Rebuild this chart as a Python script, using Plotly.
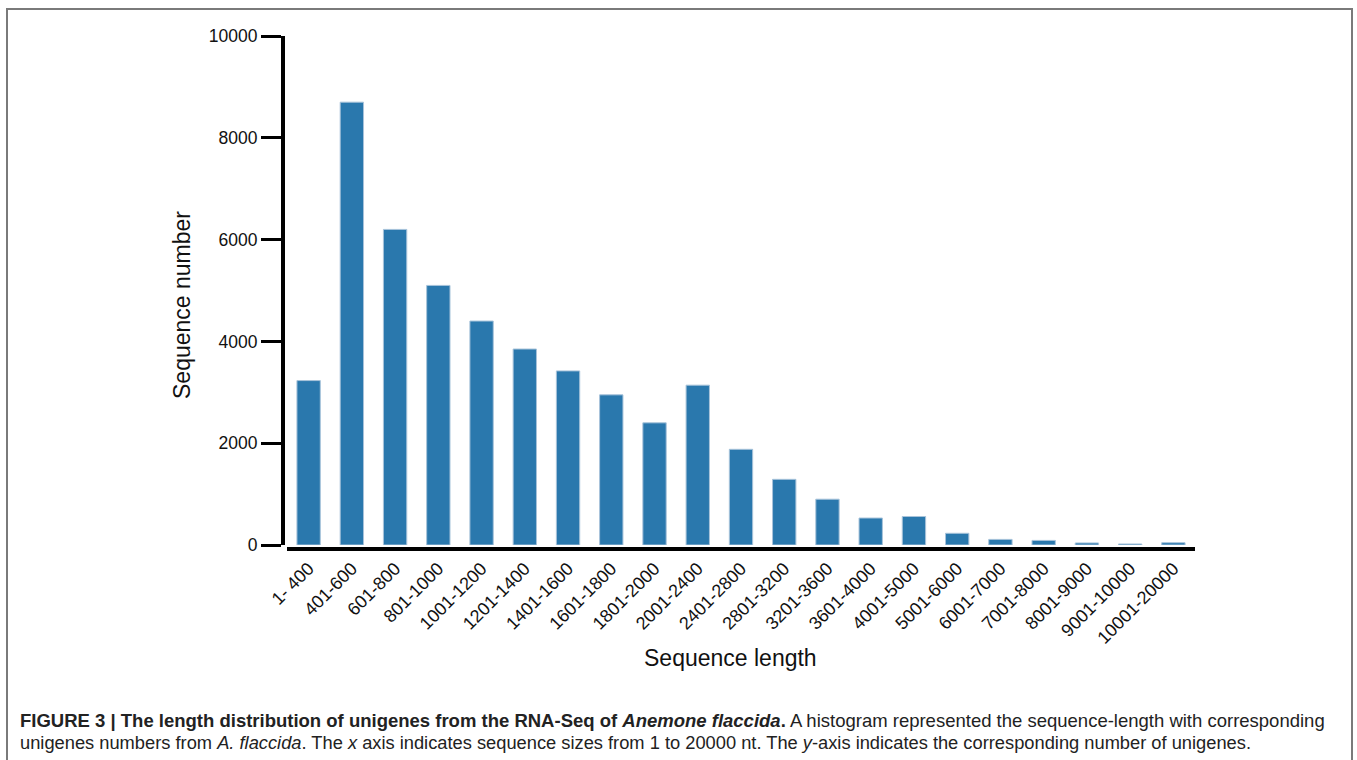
import plotly.graph_objects as go

categories = ["1- 400", "401-600", "601-800", "801-1000", "1001-1200", "1201-1400",
              "1401-1600", "1601-1800", "1801-2000", "2001-2400", "2401-2800",
              "2801-3200", "3201-3600", "3601-4000", "4001-5000", "5001-6000",
              "6001-7000", "7001-8000", "8001-9000", "9001-10000", "10001-20000"]
counts = [3230, 8700, 6200, 5100, 4400, 3850, 3420, 2950, 2400, 3140, 1880,
          1290, 900, 530, 560, 230, 110, 90, 40, 20, 45]
y_ticks = [0, 2000, 4000, 6000, 8000, 10000]

W, H = 1357, 760
L, R, T, B = 283, 162, 36, 211
PW = W - L - R
PH = H - T - B

def px(x):
    return (x - L) / PW

def py(y):
    return (H - B - y) / PH

FONT = "Liberation Sans, Arial, Helvetica, sans-serif"

fig = go.Figure(go.Bar(
    x=categories, y=counts,
    marker=dict(color="#2a78ad", line=dict(color="#a8c3da", width=1)),
    width=0.54,
))

fig.update_layout(
    width=W, height=H,
    margin=dict(l=L, r=R, t=T, b=B, autoexpand=False),
    paper_bgcolor="white", plot_bgcolor="white",
    showlegend=False,
    font=dict(family=FONT, color="#111", size=16),
    xaxis=dict(
        domain=[4 / PW, 1], anchor="free", position=0,
        showline=True, linecolor="black", linewidth=4,
        ticks="", tickangle=-45, showgrid=False, zeroline=False,
        tickfont=dict(family=FONT, size=18, color="#111"),
    ),
    yaxis=dict(
        domain=[4 / PH, 1], anchor="free", position=0,
        range=[0, 10000], tickvals=y_ticks, tickformat="d",
        showline=True, linecolor="black", linewidth=4,
        ticks="outside", ticklen=20, tickwidth=3, tickcolor="black",
        showgrid=False, zeroline=False,
        tickfont=dict(family=FONT, size=17.5, color="#111"),
    ),
)

fig.add_annotation(text="Sequence number", xref="paper", yref="paper",
                   x=px(182), y=py(305), textangle=-90, showarrow=False,
                   xanchor="center", yanchor="middle",
                   font=dict(family=FONT, size=23, color="#111"))
fig.add_annotation(text="Sequence length", xref="paper", yref="paper",
                   x=px(730), y=py(658), showarrow=False,
                   xanchor="center", yanchor="middle",
                   font=dict(family=FONT, size=23, color="#111"))

line1 = ("<b>FIGURE 3 | The length distribution of unigenes from the RNA-Seq of "
         "<i>Anemone flaccida</i>.</b> A histogram represented the sequence-length with corresponding")
line2 = ("unigenes numbers from <i>A. flaccida</i>. The <i>x</i> axis indicates sequence sizes "
         "from 1 to 20000 nt. The <i>y</i>-axis indicates the corresponding number of unigenes.")
fig.add_annotation(text=line1, xref="paper", yref="paper", x=px(18), y=py(720),
                   showarrow=False, xanchor="left", yanchor="middle",
                   font=dict(family=FONT, size=18.5, color="#222"))
fig.add_annotation(text=line2, xref="paper", yref="paper", x=px(18), y=py(742),
                   showarrow=False, xanchor="left", yanchor="middle",
                   font=dict(family=FONT, size=18.3, color="#222"))

fig.add_shape(type="rect", xref="paper", yref="paper",
              x0=px(7), x1=px(1352), y0=py(775), y1=py(9),
              line=dict(color="#7a7a7a", width=2), fillcolor="rgba(0,0,0,0)",
              layer="below")

fig.write_html("out.html", config={"displayModeBar": False},
               post_script="document.body.style.margin='0';document.body.style.overflow='hidden';")
